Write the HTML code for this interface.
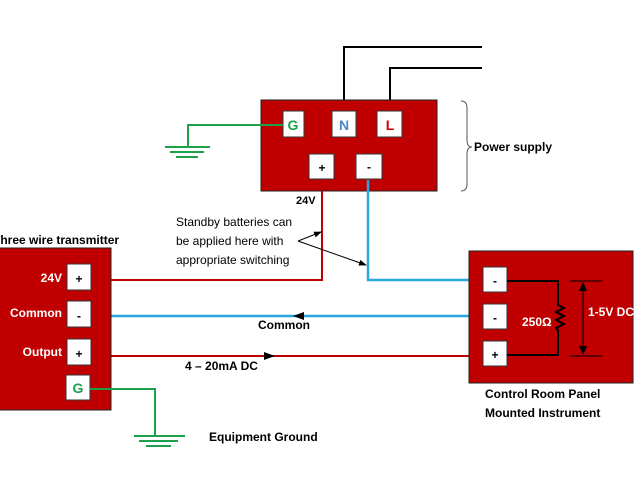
<!DOCTYPE html>
<html><head><meta charset="utf-8"><style>
html,body{margin:0;padding:0;background:#fff;}
svg{display:block;}
text{font-family:"Liberation Sans",sans-serif;font-size:12px;}
</style></head><body>
<svg width="640" height="480" viewBox="0 0 640 480" xmlns="http://www.w3.org/2000/svg">
<defs>
<marker id="ah" markerWidth="8" markerHeight="8" refX="7" refY="4" orient="auto" markerUnits="userSpaceOnUse"><path d="M0,1 L8,4 L0,7 Z" fill="#000"/></marker>
</defs>
<polyline points="344,112 344,47 482,47" fill="none" stroke="#000" stroke-width="2"/>
<polyline points="390,112 390,68 482,68" fill="none" stroke="#000" stroke-width="2"/>
<rect x="261" y="100" width="176" height="91" fill="#c00000" stroke="#222" stroke-width="1"/>
<rect x="283" y="111" width="21" height="26" fill="#fff" stroke="#333"/>
<rect x="332" y="111" width="24" height="26" fill="#fff" stroke="#333"/>
<rect x="377" y="111" width="25" height="26" fill="#fff" stroke="#333"/>
<rect x="309" y="154" width="25" height="25" fill="#fff" stroke="#333"/>
<rect x="356" y="154" width="26" height="25" fill="#fff" stroke="#333"/>
<text x="293" y="130" text-anchor="middle" font-weight="bold" fill="#1ea04a" style="font-size:14px">G</text>
<text x="344" y="130" text-anchor="middle" font-weight="bold" fill="#4a86c8" style="font-size:14px">N</text>
<text x="390" y="130" text-anchor="middle" font-weight="bold" fill="#d00000" style="font-size:14px">L</text>
<text x="322" y="172" text-anchor="middle" font-weight="bold">+</text>
<text x="369" y="171" text-anchor="middle" font-weight="bold">-</text>
<polyline points="283,125 188,125 188,147" fill="none" stroke="#1ea04a" stroke-width="2"/>
<line x1="165" y1="147" x2="210" y2="147" stroke="#1ea04a" stroke-width="2"/>
<line x1="170" y1="152" x2="204" y2="152" stroke="#1ea04a" stroke-width="2"/>
<line x1="176" y1="157" x2="198" y2="157" stroke="#1ea04a" stroke-width="2"/>
<path d="M461,101 Q467,101 467,108 L467,140 Q467,147 472,147 Q467,147 467,154 L467,184 Q467,191 461,191" fill="none" stroke="#555" stroke-width="1"/>
<text x="474" y="151" font-weight="bold">Power supply</text>
<text x="296" y="204" font-weight="bold" style="font-size:11px">24V</text>
<polyline points="322,191 322,280 111,280" fill="none" stroke="#c00000" stroke-width="2"/>
<polyline points="368,180 368,280 483,280" fill="none" stroke="#29a8e0" stroke-width="2.5"/>
<line x1="91" y1="316" x2="483" y2="316" stroke="#29a8e0" stroke-width="2.5"/>
<line x1="111" y1="356" x2="483" y2="356" stroke="#c00000" stroke-width="2"/>
<path d="M293,316 L304,312 L304,320 Z" fill="#000"/>
<path d="M275,356 L264,352 L264,360 Z" fill="#000"/>
<text x="258" y="329" font-weight="bold">Common</text>
<text x="185" y="370" font-weight="bold">4 – 20mA DC</text>
<text x="176" y="226">Standby batteries can</text>
<text x="176" y="245">be applied here with</text>
<text x="176" y="264">appropriate switching</text>
<line x1="298" y1="241" x2="321" y2="232" stroke="#000" stroke-width="1" marker-end="url(#ah)"/>
<line x1="298" y1="241" x2="366" y2="265" stroke="#000" stroke-width="1" marker-end="url(#ah)"/>
<text x="-7" y="244" font-weight="bold">Three wire transmitter</text>
<rect x="-2" y="248" width="113" height="162" fill="#c00000" stroke="#222"/>
<rect x="67" y="264" width="24" height="26" fill="#fff" stroke="#333"/>
<rect x="67" y="301" width="24" height="26" fill="#fff" stroke="#333"/>
<rect x="67" y="339" width="24" height="26" fill="#fff" stroke="#333"/>
<rect x="66" y="375" width="24" height="25" fill="#fff" stroke="#333"/>
<text x="79" y="283" text-anchor="middle" font-weight="bold">+</text>
<text x="79" y="320" text-anchor="middle" font-weight="bold">-</text>
<text x="79" y="358" text-anchor="middle" font-weight="bold">+</text>
<text x="78" y="393" text-anchor="middle" font-weight="bold" fill="#1ea04a" style="font-size:14px">G</text>
<text x="62" y="282" text-anchor="end" font-weight="bold" fill="#fff">24V</text>
<text x="62" y="317" text-anchor="end" font-weight="bold" fill="#fff">Common</text>
<text x="62" y="356" text-anchor="end" font-weight="bold" fill="#fff">Output</text>
<polyline points="90,389 155,389 155,436" fill="none" stroke="#1ea04a" stroke-width="2"/>
<line x1="134" y1="436" x2="185" y2="436" stroke="#1ea04a" stroke-width="2"/>
<line x1="139" y1="441" x2="178" y2="441" stroke="#1ea04a" stroke-width="2"/>
<line x1="146" y1="446" x2="171" y2="446" stroke="#1ea04a" stroke-width="2"/>
<text x="209" y="441" font-weight="bold">Equipment Ground</text>
<rect x="469" y="251" width="164" height="132" fill="#c00000" stroke="#222"/>
<rect x="483" y="267" width="24" height="25" fill="#fff" stroke="#333"/>
<rect x="483" y="304" width="24" height="25" fill="#fff" stroke="#333"/>
<rect x="483" y="341" width="24" height="25" fill="#fff" stroke="#333"/>
<text x="495" y="285" text-anchor="middle" font-weight="bold">-</text>
<text x="495" y="322" text-anchor="middle" font-weight="bold">-</text>
<text x="495" y="359" text-anchor="middle" font-weight="bold">+</text>
<polyline points="507,281 558,281 558,305 564,308 556,312 564,316 556,320 564,324 556,328 558,330 558,355 507,355" fill="none" stroke="#000" stroke-width="2"/>
<line x1="570" y1="281" x2="602" y2="281" stroke="#000" stroke-width="1"/>
<line x1="570" y1="356" x2="602" y2="356" stroke="#000" stroke-width="1"/>
<line x1="583" y1="283" x2="583" y2="354" stroke="#000" stroke-width="1"/>
<path d="M583,282 L579,291 L587,291 Z M583,355 L579,346 L587,346 Z" fill="#000"/>
<text x="522" y="326" font-weight="bold" fill="#fff">250Ω</text>
<text x="588" y="316" font-weight="bold" fill="#fff">1-5V DC</text>
<text x="485" y="398" font-weight="bold">Control Room Panel</text>
<text x="485" y="417" font-weight="bold">Mounted Instrument</text>
</svg>
</body></html>
